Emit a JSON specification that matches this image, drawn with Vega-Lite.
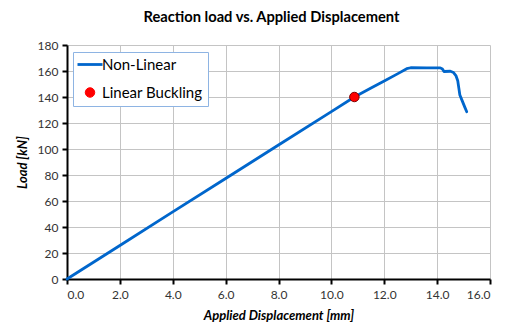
{
  "$schema": "https://vega.github.io/schema/vega-lite/v6.json",
  "autosize": "none",
  "width": 423,
  "height": 234,
  "padding": {"left": 67, "top": 45, "right": 20, "bottom": 52},
  "background": "white",
  "title": {"text": "Reaction load vs. Applied Displacement", "font": "Lato", "fontSize": 14.7, "fontWeight": "bold", "color": "#000000", "offset": 14, "dx": -7},
  "config": {
    "view": {"stroke": null},
    "axis": {"labelFont": "Lato", "titleFont": "Lato", "labelColor": "#333333", "titleColor": "#000000", "gridColor": "#C4C4C4", "gridWidth": 1, "domainColor": "#000000", "domainWidth": 2, "tickColor": "#000000", "tickWidth": 2, "tickSize": 5, "labelFontSize": 12, "titleFontSize": 13, "titleFontWeight": "bold", "titleFontStyle": "italic", "labelOverlap": false}
  },
  "datasets": {
    "curve": [
      {"disp": 0.0, "load": 0.0, "series": "Non-Linear"},
      {"disp": 2.0, "load": 25.8, "series": "Non-Linear"},
      {"disp": 4.0, "load": 51.6, "series": "Non-Linear"},
      {"disp": 6.0, "load": 77.3, "series": "Non-Linear"},
      {"disp": 8.0, "load": 103.1, "series": "Non-Linear"},
      {"disp": 10.0, "load": 128.8, "series": "Non-Linear"},
      {"disp": 10.87, "load": 140.0, "series": "Non-Linear"},
      {"disp": 11.5, "load": 147.0, "series": "Non-Linear"},
      {"disp": 12.0, "load": 152.3, "series": "Non-Linear"},
      {"disp": 12.5, "load": 157.8, "series": "Non-Linear"},
      {"disp": 12.85, "load": 161.8, "series": "Non-Linear"},
      {"disp": 13.0, "load": 162.5, "series": "Non-Linear"},
      {"disp": 13.6, "load": 162.4, "series": "Non-Linear"},
      {"disp": 14.12, "load": 162.4, "series": "Non-Linear"},
      {"disp": 14.2, "load": 161.5, "series": "Non-Linear"},
      {"disp": 14.26, "load": 159.6, "series": "Non-Linear"},
      {"disp": 14.5, "load": 159.8, "series": "Non-Linear"},
      {"disp": 14.62, "load": 158.8, "series": "Non-Linear"},
      {"disp": 14.71, "load": 156.5, "series": "Non-Linear"},
      {"disp": 14.78, "load": 152.5, "series": "Non-Linear"},
      {"disp": 14.82, "load": 147.0, "series": "Non-Linear"},
      {"disp": 14.86, "load": 141.5, "series": "Non-Linear"},
      {"disp": 14.95, "load": 137.0, "series": "Non-Linear"},
      {"disp": 15.05, "load": 132.0, "series": "Non-Linear"},
      {"disp": 15.12, "load": 128.7, "series": "Non-Linear"}
    ],
    "buckling": [
      {"disp": 10.87, "load": 140.0, "series": "Linear Buckling"}
    ]
  },
  "layer": [
    {
      "data": {"name": "curve"},
      "mark": {"type": "line", "strokeWidth": 2.8, "strokeJoin": "round", "strokeCap": "round"},
      "encoding": {
        "x": {"field": "disp", "type": "quantitative", "scale": {"domain": [0, 16], "nice": false}, "axis": {"title": "Applied Displacement [mm]", "format": ".1f", "values": [0, 2, 4, 6, 8, 10, 12, 14, 16], "tickCount": 9, "labelPadding": 5, "titlePadding": 9}},
        "y": {"field": "load", "type": "quantitative", "scale": {"domain": [0, 180], "nice": false}, "axis": {"title": "Load [kN]", "values": [0, 20, 40, 60, 80, 100, 120, 140, 160, 180], "tickCount": 10, "labelPadding": 4, "titlePadding": 8}},
        "order": {"field": "disp", "type": "quantitative"},
        "color": {
          "field": "series", "type": "nominal",
          "scale": {"domain": ["Non-Linear", "Linear Buckling"], "range": ["#0066CC", "#FF0000"]},
          "legend": {
            "title": null, "orient": "none", "legendX": 6, "legendY": 7,
            "labelFont": "Lato", "labelFontSize": 15, "labelColor": "#000000",
            "symbolSize": 400, "symbolOffset": 4.5, "labelOffset": 4.5, "rowPadding": 12,
            "padding": 5, "strokeColor": "#8EB4E3", "fillColor": "#FFFFFF",
            "labelLimit": 200,
            "encode": {
              "symbols": {
                "update": {
                  "shape": {"signal": "datum.value === 'Non-Linear' ? 'stroke' : 'circle'"},
                  "size": {"signal": "datum.value === 'Non-Linear' ? 625 : 90"},
                  "fill": {"signal": "datum.value === 'Non-Linear' ? 'transparent' : '#FF0000'"},
                  "stroke": {"signal": "datum.value === 'Non-Linear' ? '#0066CC' : '#7F0000'"},
                  "strokeWidth": {"signal": "datum.value === 'Non-Linear' ? 2.8 : 1"},
                  "opacity": {"value": 1}
                }
              }
            }
          }
        }
      }
    },
    {
      "data": {"name": "buckling"},
      "mark": {"type": "point", "filled": true, "size": 90, "stroke": "#7F0000", "strokeWidth": 1, "opacity": 1},
      "encoding": {
        "x": {"field": "disp", "type": "quantitative"},
        "y": {"field": "load", "type": "quantitative"},
        "color": {"field": "series", "type": "nominal"}
      }
    }
  ]
}
